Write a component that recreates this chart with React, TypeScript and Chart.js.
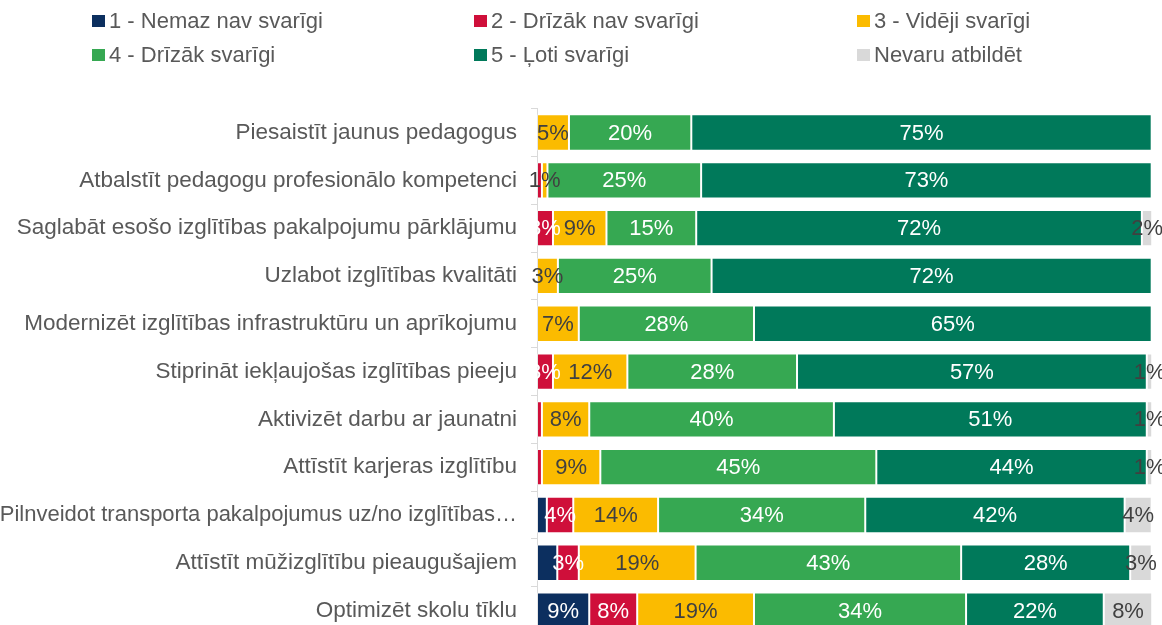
import React, { useEffect, useRef } from "react";
import { Chart, registerables } from "chart.js";

Chart.register(...registerables);

const categories = [
  "Piesaistīt jaunus pedagogus",
  "Atbalstīt pedagogu profesionālo kompetenci",
  "Saglabāt esošo izglītības pakalpojumu pārklājumu",
  "Uzlabot izglītības kvalitāti",
  "Modernizēt izglītības infrastruktūru un aprīkojumu",
  "Stiprināt iekļaujošas izglītības pieeju",
  "Aktivizēt darbu ar jaunatni",
  "Attīstīt karjeras izglītību",
  "Pilnveidot transporta pakalpojumus uz/no izglītības…",
  "Attīstīt mūžizglītību pieaugušajiem",
  "Optimizēt skolu tīklu",
];

const seriesNames = [
  "1 - Nemaz nav svarīgi",
  "2 - Drīzāk nav svarīgi",
  "3 - Vidēji svarīgi",
  "4 - Drīzāk svarīgi",
  "5 - Ļoti svarīgi",
  "Nevaru atbildēt",
];

const nemaz = [0, 0, 0, 0, 0, 0, 0, 0, 1.6, 3.3, 8.5];
const drizakNav = [0, 0.8, 2.6, 0, 0, 2.6, 0.8, 0.8, 4.3, 3.5, 7.8];
const videji = [5.2, 0.9, 8.7, 3.4, 6.8, 12.1, 7.7, 9.5, 13.8, 19, 19];
const drizak = [19.9, 25, 14.6, 25, 28.5, 27.6, 39.8, 44.9, 33.7, 43.2, 34.5];
const loti = [74.9, 73.3, 72.5, 71.6, 64.7, 56.9, 50.9, 44, 42.2, 27.5, 22.4];
const nevaru = [0, 0, 1.7, 0, 0, 0.9, 0.9, 0.9, 4.4, 3.5, 7.9];

const nemazLbl = ["", "", "", "", "", "", "", "", "", "", "9%"];
const drizakNavLbl = ["", "", "3%", "", "", "3%", "", "", "4%", "3%", "8%"];
const videjiLbl = ["5%", "1%", "9%", "3%", "7%", "12%", "8%", "9%", "14%", "19%", "19%"];
const drizakLbl = ["20%", "25%", "15%", "25%", "28%", "28%", "40%", "45%", "34%", "43%", "34%"];
const lotiLbl = ["75%", "73%", "72%", "72%", "65%", "57%", "51%", "44%", "42%", "28%", "22%"];
const nevaruLbl = ["", "", "2%", "", "", "1%", "1%", "1%", "4%", "3%", "8%"];

const colors = ["#0c2f5f", "#cf0f3a", "#fbbb00", "#36a852", "#00795a", "#d9d9d9"];
const labelColors = ["#ffffff", "#ffffff", "#404040", "#ffffff", "#ffffff", "#404040"];

const FONT = "'Liberation Sans', Arial, sans-serif";
const TEXT = "#595959";
const H = 662;

export default function App() {
  const ref = useRef<HTMLCanvasElement | null>(null);

  useEffect(() => {
    if (!ref.current) return;
    const values = [nemaz, drizakNav, videji, drizak, loti, nevaru];
    const labels = [nemazLbl, drizakNavLbl, videjiLbl, drizakLbl, lotiLbl, nevaruLbl];

    const legendPlugin = {
      id: "customLegend",
      afterDraw(chart: any) {
        const ctx = chart.ctx;
        const cols = [92, 474, 857];
        const rows = [21, 55];
        ctx.save();
        ctx.font = `22px ${FONT}`;
        ctx.textBaseline = "middle";
        ctx.textAlign = "left";
        seriesNames.forEach((name, i) => {
          const x = cols[i % 3];
          const y = rows[Math.floor(i / 3)];
          ctx.fillStyle = colors[i];
          ctx.fillRect(x, y - 6, 13, 12);
          ctx.fillStyle = TEXT;
          ctx.fillText(name, x + 17, y + 1);
        });
        ctx.restore();
      },
    };

    const labelPlugin = {
      id: "segLabels",
      afterDatasetsDraw(chart: any) {
        const ctx = chart.ctx;
        ctx.save();
        ctx.font = `22px ${FONT}`;
        ctx.textAlign = "center";
        ctx.textBaseline = "middle";
        chart.data.datasets.forEach((ds: any, di: number) => {
          const meta = chart.getDatasetMeta(di);
          meta.data.forEach((el: any, i: number) => {
            const t = labels[di][i];
            if (!t) return;
            const cx = (el.x + el.base) / 2;
            ctx.fillStyle = labelColors[di];
            ctx.fillText(t, cx, el.y + 1);
          });
        });
        ctx.restore();
      },
    };

    const chart = new Chart(ref.current, {
      type: "bar",
      data: {
        labels: categories,
        datasets: values.map((v, i) => ({
          label: seriesNames[i],
          data: v,
          backgroundColor: colors[i],
          borderColor: "rgba(255,255,255,0.35)",
          borderWidth: 1,
          borderSkipped: false,
          categoryPercentage: 1,
          barPercentage: 0.76,
        })),
      },
      options: {
        indexAxis: "y",
        animation: false,
        responsive: false,
        maintainAspectRatio: false,
        layout: { padding: { top: 108.6, right: 10.3, bottom: 6.2, left: 0 } },
        plugins: {
          legend: { display: false },
          tooltip: { enabled: false },
        },
        scales: {
          x: {
            stacked: true,
            min: 0,
            max: 100,
            display: false,
          },
          y: {
            stacked: true,
            afterFit(scale: any) {
              scale.width = 537;
            },
            border: { display: true, color: "#d9d9d9", width: 1 },
            grid: {
              display: true,
              drawOnChartArea: false,
              drawTicks: true,
              tickLength: 6,
              color: "#d9d9d9",
              offset: true,
            },
            ticks: {
              color: TEXT,
              padding: 14,
              font: (c: any) => ({
                family: FONT,
                size: categories[c.index] && categories[c.index].length > 50 ? 22 : 22.5,
              }),
              autoSkip: false,
            },
          },
        },
      },
      plugins: [legendPlugin, labelPlugin],
    });
    return () => chart.destroy();
  }, []);

  return (
    <div
      style={{
        position: "fixed",
        left: 0,
        top: 0,
        width: 1162,
        height: H,
        overflow: "hidden",
        background: "#ffffff",
      }}
    >
      <canvas ref={ref} width={1162} height={H} style={{ width: 1162, height: H, display: "block" }} />
    </div>
  );
}
